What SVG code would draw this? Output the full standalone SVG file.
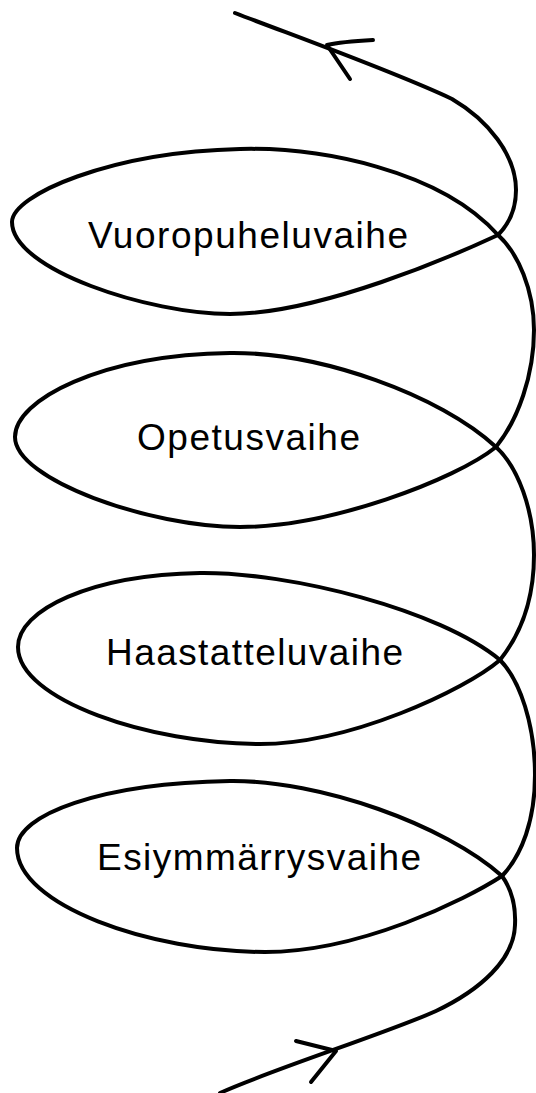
<svg xmlns="http://www.w3.org/2000/svg" width="536" height="1093" viewBox="0 0 536 1093">
<style>
.ln{fill:none;stroke:#000;stroke-width:4;stroke-linecap:round;stroke-linejoin:round}
.lbl{font-family:"Liberation Sans",Arial,sans-serif;font-size:37px;fill:#000}
</style>
<rect width="536" height="1093" fill="#fff"/>
<g id="connectors">
<path class="ln" d="M235,13 C300,38 395,72 452,99 C488,120 516,155 516,190 C516,210 508,225 498,235"/>
<path class="ln" d="M498,235 C518,253 534,290 534,330 C534,375 518,420 496,447"/>
<path class="ln" d="M496,447 C518,467 534,510 534,555 C534,600 520,635 500,660"/>
<path class="ln" d="M500,660 C520,680 535,725 535,775 C535,820 522,855 502,876"/>
<path class="ln" d="M502,876 C512,890 516,905 515,925 C514,960 480,990 436,1011 C390,1032 270,1070 220,1093"/>
<path class="ln" d="M373,40 C355,41 340,42 327,45 L350,79"/>
<path class="ln" d="M296,1041 L336,1051 L311,1082"/>
</g>
<g id="vuoropuheluvaihe">
<path class="ln" d="M498,235 C455,255 320,314 230,314 C150,314 12,270 12,222 C12,195 110,152 240,149 C320,147 440,170 498,235"/>
<text class="lbl" x="88" y="248" textLength="320" lengthAdjust="spacing">Vuoropuheluvaihe</text>
</g>
<g id="opetusvaihe">
<path class="ln" d="M496,447 C455,480 330,527 240,527 C150,527 15,480 15,437 C15,400 100,355 230,353 C320,352 440,395 496,447"/>
<text class="lbl" x="137" y="450" textLength="223" lengthAdjust="spacing">Opetusvaihe</text>
</g>
<g id="haastatteluvaihe">
<path class="ln" d="M500,660 C465,690 350,744 260,744 C150,744 18,700 18,647 C18,610 90,575 200,573 C290,572 440,610 500,660"/>
<text class="lbl" x="106" y="665" textLength="297" lengthAdjust="spacing">Haastatteluvaihe</text>
</g>
<g id="esiymmarrysvaihe">
<path class="ln" d="M502,876 C465,900 360,952 265,952 C150,952 17,905 17,848 C17,815 100,783 230,781 C320,780 445,825 502,876"/>
<text class="lbl" x="97" y="870" textLength="324" lengthAdjust="spacing">Esiymmärrysvaihe</text>
</g>
</svg>
